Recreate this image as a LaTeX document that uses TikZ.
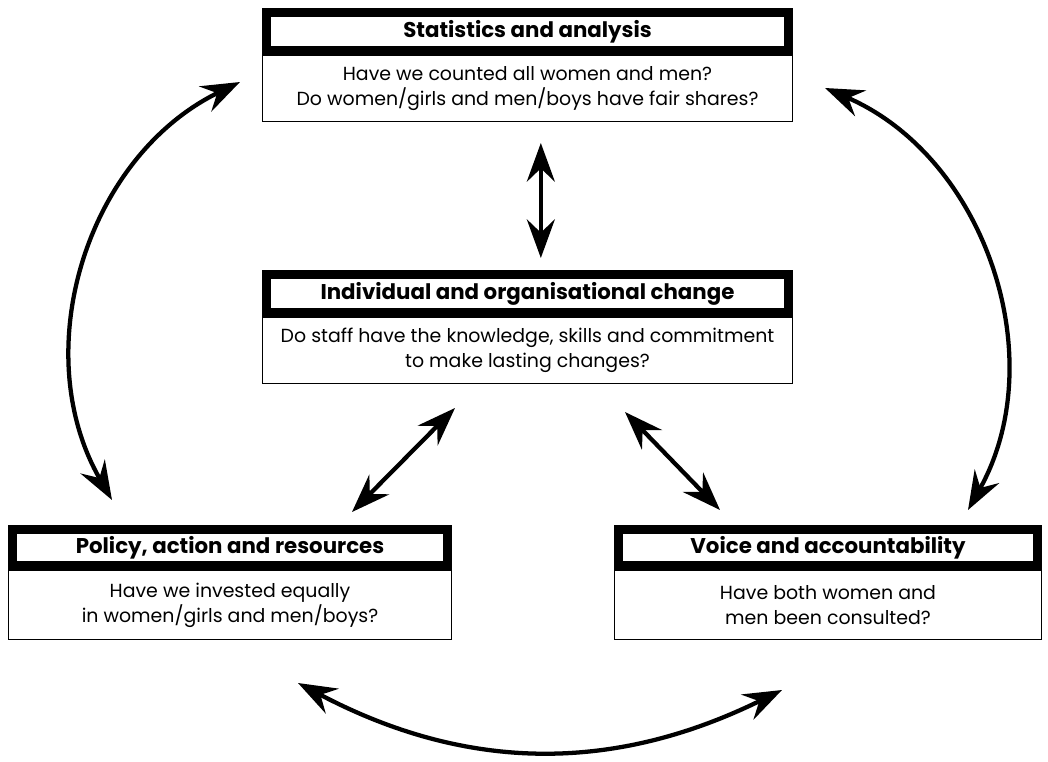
\documentclass[tikz,border=0pt]{standalone}
\usepackage{fontspec}
\setmainfont{Poppins}
\usetikzlibrary{arrows.meta, calc, positioning}
\definecolor{boxBlack}{HTML}{000000}
\tikzset{
    HeadText/.style={font=\fontsize{16}{18}\selectfont\bfseries},
    BodyText/.style={font=\fontsize{14.2}{18.75}\selectfont},
    HeadBox/.style={draw=boxBlack, line width=7pt, fill=white, inner sep=0pt, HeadText},
    BodyBox/.style={draw=boxBlack, line width=0.8pt, fill=white, inner sep=0pt, align=center, BodyText},
    LinkArrow/.style={{Stealth[length=29pt, width=21pt, inset=10pt]}-{Stealth[length=29pt, width=21pt, inset=10pt]}, line width=3.2pt}
}

\begin{document}
\begin{tikzpicture}[x=0.75pt, y=-0.75pt]
    % rahmen in bildpunkten: 1048 x 761
    \useasboundingbox (0,0) rectangle (1048,761);

    % --- obere und mittlere Box ---
    \node[BodyBox, minimum width=397.45pt, minimum height=49.45pt] (statBody) at (527.5, 88.5)
        {Have we counted all women and men?\\Do women/girls and men/boys have fair shares?};
    \node[HeadBox, minimum width=391.25pt, minimum height=28.25pt, above=0pt of statBody] (statHead) {Statistics and analysis};

    \node[BodyBox, minimum width=397.45pt, minimum height=49.45pt] (changeBody) at (527.5, 350.5)
        {Do staff have the knowledge, skills and commitment\\to make lasting changes?};
    \node[HeadBox, minimum width=391.25pt, minimum height=28.25pt, above=0pt of changeBody] (changeHead) {Individual and organisational change};

    % --- untere Boxen ---
    \node[BodyBox, minimum width=332.2pt, minimum height=51.7pt] (policyBody) at (230, 605)
        {Have we invested equally\\in women/girls and men/boys?};
    \node[HeadBox, minimum width=326pt, minimum height=26.75pt, above=0pt of policyBody] (policyHead) {Policy, action and resources};

    \node[BodyBox, minimum width=320.2pt, minimum height=51.7pt] (voiceBody) at (828, 605)
        {Have both women and\\men been consulted?};
    \node[HeadBox, minimum width=314pt, minimum height=26.75pt, above=0pt of voiceBody] (voiceHead) {Voice and accountability};

    % Pfeile
    \draw[LinkArrow, shorten <=15.75pt, shorten >=9pt] ([xshift=10pt]statBody.south) -- ([xshift=10pt]changeHead.north);
    \draw[LinkArrow] ($(changeBody.south)+(-72.5,24)$) -- ($(policyHead.north)+(122,-13)$);
    \draw[LinkArrow] ($(changeBody.south)+(97.5,28)$) -- ($(voiceHead.north)+(-108,-15)$);

    \draw[LinkArrow] ($(policyHead.north)+(-118,-25)$) to[bend left=47] ($(statBody.west)+(-22,-6.5)$);
    \draw[LinkArrow] ($(statBody.east)+(32,-0.5)$) to[bend left=48] ($(voiceHead.north)+(140,-15)$);
    \draw[LinkArrow] ($(policyBody.south)+(68,43)$) to[bend right=27] ($(voiceBody.south)+(-46,50)$);
\end{tikzpicture}
\end{document}
